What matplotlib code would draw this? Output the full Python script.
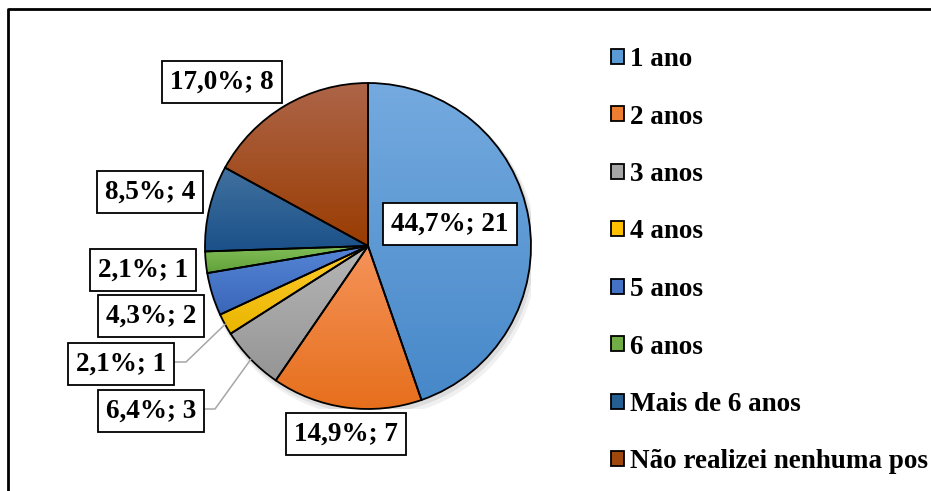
import matplotlib.pyplot as plt
import matplotlib.colors as mcolors
from matplotlib.patches import Patch, Circle
from matplotlib.lines import Line2D
import numpy as np

# dados do gráfico
categorias = ['1 ano', '2 anos', '3 anos', '4 anos', '5 anos', '6 anos',
              'Mais de 6 anos', 'Não realizei nenhuma pos']
valores = [21, 7, 3, 1, 2, 1, 4, 8]
rotulos = ['44,7%; 21', '14,9%; 7', '6,4%; 3', '2,1%; 1', '4,3%; 2',
           '2,1%; 1', '8,5%; 4', '17,0%; 8']

# cores (base, topo claro, base escura) - estilo gradiente do Excel
cores = ['#5b9bd5', '#ed7d31', '#a5a5a5', '#ffc000', '#4472c4', '#70ad47',
         '#255e91', '#9e480e']
cor_topo = ['#74aadf', '#f5935a', '#b6b6b6', '#ffcb2e', '#5585d6', '#82bf58',
            '#41719f', '#ad6548']
cor_base = ['#4788c9', '#e66f1c', '#959595', '#eab600', '#3a66b8', '#62a03a',
            '#1b5189', '#9a3c02']

W, H = 931, 491
fig = plt.figure(figsize=(W / 100, H / 100), dpi=100)
plt.rcParams['font.family'] = ['Liberation Serif', 'DejaVu Serif']
plt.rcParams['font.weight'] = 'bold'
TAM = 19.5

# pizza: centro (368, 246) px, raio 163 px
cx, cy, r = 368, 246, 163
ax = fig.add_axes([(cx - r) / W, (H - cy - r) / H, 2 * r / W, 2 * r / H])

# sombra suave
for k, a in [(0.035, 0.06), (0.02, 0.08)]:
    ax.add_patch(Circle((k * 0.6, -k), 1.0 + k * 0.5, color='black', alpha=a, lw=0, zorder=0))

wedges, _ = ax.pie(valores, radius=1, startangle=90, counterclock=False,
                   colors=cores,
                   wedgeprops=dict(edgecolor='black', linewidth=1.3, zorder=2))

# gradiente vertical por fatia
for w, c1, c2 in zip(wedges, cor_topo, cor_base):
    t = np.radians(np.linspace(w.theta1, w.theta2, 100))
    xs = np.concatenate([[0], np.cos(t)])
    ys = np.concatenate([[0], np.sin(t)])
    cmap = mcolors.LinearSegmentedColormap.from_list('g', [c2, c1])
    grad = np.linspace(0, 1, 256).reshape(-1, 1)
    im = ax.imshow(grad, cmap=cmap, origin='lower', aspect='auto',
                   extent=(xs.min(), xs.max(), ys.min(), ys.max()), zorder=1)
    im.set_clip_path(w)
    w.set_facecolor('none')

ax.set_xlim(-1, 1)
ax.set_ylim(-1, 1)
ax.set_aspect('equal')
ax.axis('off')

# posições dos rótulos (px) e linhas de chamada
pos_rotulos = [(450, 224), (346, 434), (151, 411), (121, 364), (151, 316),
               (143, 270), (150, 192), (222, 82)]
chamada = {2: (205, 215), 3: (174, 186)}

total = sum(valores)
acum = np.cumsum([0] + valores)
for i, (txt, (px, py)) in enumerate(zip(rotulos, pos_rotulos)):
    x, y = (px - cx) / r, (cy - py) / r
    ax.text(x, y, txt, ha='center', va='center', fontsize=TAM, fontweight='bold',
            zorder=5, clip_on=False,
            bbox=dict(boxstyle='square,pad=0.3', fc='white', ec='black', lw=1.3))
    if i in chamada:
        ang = np.radians(90 - (acum[i] + valores[i] / 2) / total * 360)
        x0, x1 = chamada[i]
        yl = (cy - (py - 2)) / r
        ax.plot([(x0 - cx) / r, (x1 - cx) / r, np.cos(ang)],
                [yl, yl, np.sin(ang)], color='#a6a6a6', lw=1.1, zorder=3,
                clip_on=False)

# legenda
handles = [Patch(facecolor=c, edgecolor='black', lw=1.3) for c in cores]
fig.legend(handles, categorias, loc='upper left',
           bbox_to_anchor=(611 / W, 1 - 47 / H), frameon=False,
           prop=dict(size=TAM, weight='bold'),
           handlelength=0.48, handleheight=0.48, handletextpad=0.22,
           labelspacing=1.2, borderaxespad=0, borderpad=0)

# moldura (só esquerda e topo visíveis)
fig.add_artist(Line2D([8 / W, 8 / W, 1.0], [0, 1 - 9 / H, 1 - 9 / H],
                      transform=fig.transFigure, color='black', lw=2))

fig.savefig('out.png', dpi=100, facecolor='white')
